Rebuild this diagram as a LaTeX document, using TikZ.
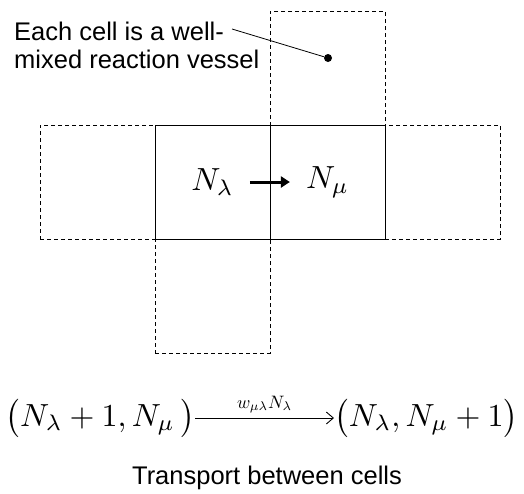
\documentclass[tikz,border=0pt]{standalone}
\usepackage{amsmath}
\usepackage{graphicx}
\usepackage{fontspec}
\newfontfamily\labelfont{Liberation Sans}
\usepackage{tikz}
\usetikzlibrary{positioning,arrows.meta}
\newcommand{\bigmaths}[1]{\scalebox{3.2}{$#1$}}

\begin{document}
\begin{tikzpicture}[x=1pt,y=-1pt,
    cell/.style={draw,line width=0.9pt,minimum width=115pt,minimum height=114pt,
                 inner sep=0pt,outer sep=0pt},
    ghost/.style={cell,dash pattern=on 4pt off 3pt,line width=0.8pt},
    bigmath/.style={inner sep=0pt},
    words/.style={font=\labelfont\fontsize{25.5}{28}\selectfont},
    flow/.style={-{Triangle[length=9pt,width=11pt]},line width=3pt,
                 shorten <=16pt,shorten >=16pt},
    rate/.style={-{Straight Barb[length=7pt,width=12pt]},line width=0.9pt},
    dot/.style={circle,fill,inner sep=0pt,minimum size=8pt}]
  \useasboundingbox (0,0) rectangle (524,493);

  % the two neighbouring cells
  \node[cell] (lam) at (212.5,182) {};
  \node[cell,right=0pt of lam] (mu) {};

  % surrounding cells
  \node[ghost,above=0pt of mu] (top) {};
  \node[ghost,left=0pt of lam] (west) {};
  \node[ghost,right=0pt of mu] (east) {};
  \node[ghost,below=0pt of lam] (bottom) {};

  % populations and the jump
  \node[bigmath] (nlam) at (lam) {\bigmaths{N_\lambda}};
  \node[bigmath] (nmu) at (mu) {\bigmaths{N_\mu}};
  \draw[flow] (nlam) -- (nmu);

  % callout
  \node[words,anchor=north west,align=left,inner sep=0pt] (note) at (14,22)
    {Each cell is a well-\\mixed reaction vessel};
  \coordinate (lead) at (232,29);
  \node[dot] (vessel) at (328,58) {};
  \draw[line width=0.8pt] (lead) -- (vessel);

  % transport reaction
  \node[bigmath,anchor=east] (before) at (195,418)
    {\bigmaths{\bigl(N_\lambda+1,N_\mu\,\bigr)}};
  \node[bigmath,anchor=west] (after) at (334,418)
    {\bigmaths{\bigl(N_\lambda,N_\mu+1\bigr)}};
  \draw[rate] (before.east) -- node[above=1pt] (propensity)
    {\scalebox{1.8}{$w_{\mu\lambda}N_\lambda$}} (after.west);

  \node[words] (caption) at (267,478) {Transport between cells};
\end{tikzpicture}
\end{document}
